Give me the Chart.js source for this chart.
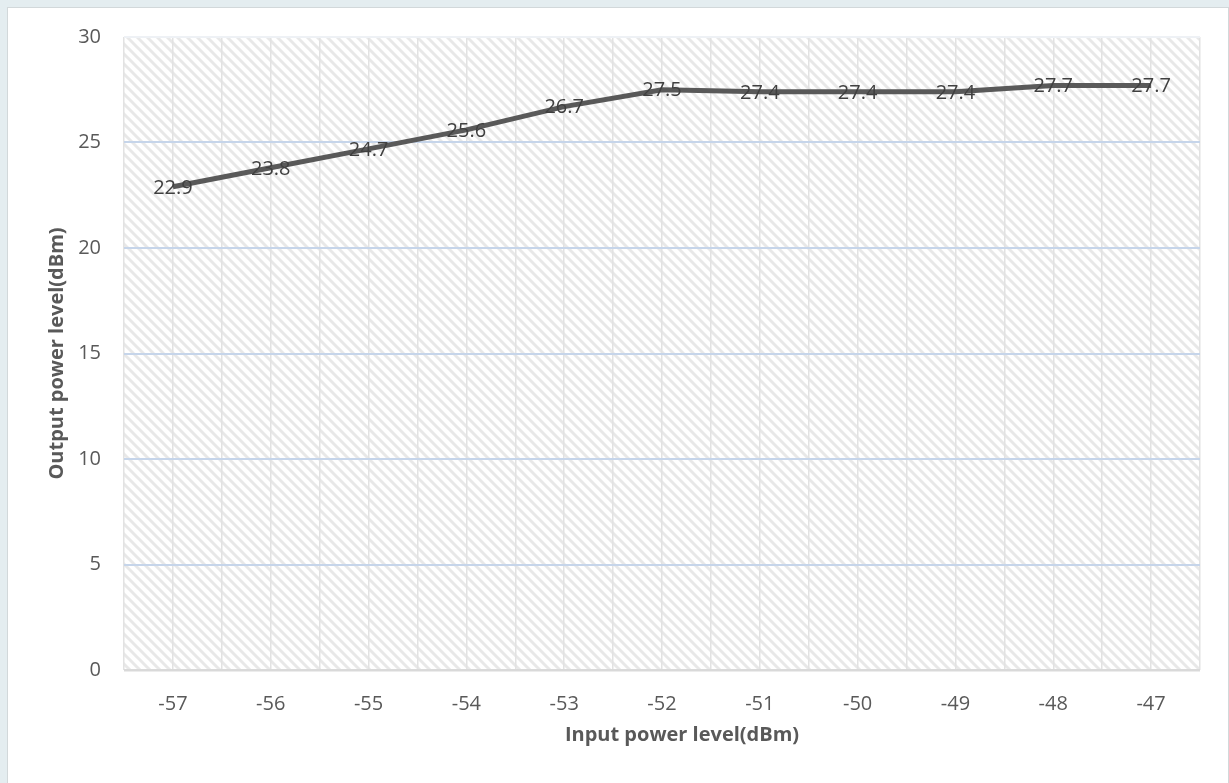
<!DOCTYPE html>
<html>
<head>
<meta charset="utf-8">
<script src="https://cdn.jsdelivr.net/npm/chart.js@4"></script>
<style>
  html, body { margin: 0; padding: 0; }
  body { width: 1229px; height: 783px; background: #e4edf0; position: relative; overflow: hidden; }
  .panel { position: absolute; left: 7px; top: 7px; width: 1220px; height: 780px; background: #fff;
           border-left: 1px solid #d2d8da; border-top: 1px solid #d2d8da; border-right: 1px solid #d2d8da; }
  .wrap { position: absolute; left: 8px; top: 8px; width: 1219px; height: 775px; }
</style>
</head>
<body>
<div class="panel"></div>
<div class="wrap"><canvas id="powerChart"></canvas></div>
<script>
// input level (dBm) and measured output level (dBm)
const inputLevels = [-57, -56, -55, -54, -53, -52, -51, -50, -49, -48, -47];
const outputLevels = [22.9, 23.8, 24.7, 25.6, 26.7, 27.5, 27.4, 27.4, 27.4, 27.7, 27.7];
const yTicks = [0, 5, 10, 15, 20, 25, 30];
const xTitle = "Input power level(dBm)";
const yTitle = "Output power level(dBm)";

const FONT = "'Open Sans', 'DejaVu Sans', sans-serif";

// diagonal hatch tile for the plot area
function makeHatch() {
  const c = document.createElement("canvas");
  c.width = 10;
  c.height = 10;
  const g = c.getContext("2d");
  g.strokeStyle = "rgba(0,0,0,0.09)";
  g.lineWidth = 3;
  g.beginPath();
  g.moveTo(-2, -2); g.lineTo(12, 12);
  g.moveTo(-2, 8); g.lineTo(2, 12);
  g.moveTo(8, -2); g.lineTo(12, 2);
  g.stroke();
  return c;
}

const hatchFill = {
  id: "hatchFill",
  beforeDraw(chart) {
    const { ctx, chartArea: a } = chart;
    ctx.save();
    ctx.fillStyle = ctx.createPattern(makeHatch(), "repeat");
    ctx.fillRect(a.left, a.top, a.right - a.left, a.bottom - a.top);
    ctx.restore();
  },
};

// value labels centred on each point, plus the x axis title (sits a bit right of centre)
const chartText = {
  id: "chartText",
  afterDatasetsDraw(chart) {
    const { ctx } = chart;
    const meta = chart.getDatasetMeta(0);
    ctx.save();
    ctx.font = "20px " + FONT;
    ctx.fillStyle = "#404040";
    ctx.textAlign = "center";
    ctx.textBaseline = "middle";
    meta.data.forEach((pt, i) => {
      ctx.fillText(outputLevels[i].toFixed(1), pt.x, pt.y + 1);
    });
    const xs = chart.scales.x;
    ctx.font = "bold 20px " + FONT;
    ctx.fillStyle = "#595959";
    ctx.fillText(xTitle, (xs.left + xs.right) / 2 + 20, xs.bottom - 48);
    ctx.restore();
  },
};

const ctx = document.getElementById("powerChart").getContext("2d");

const powerChart = new Chart(ctx, {
  type: "line",
  data: {
    datasets: [
      {
        label: "Output power",
        data: inputLevels.map((x, i) => ({ x: x, y: outputLevels[i] })),
        borderColor: "#595959",
        borderWidth: 5,
        pointRadius: 0,
        tension: 0,
        fill: false,
      },
    ],
  },
  options: {
    responsive: true,
    maintainAspectRatio: false,
    animation: false,
    devicePixelRatio: 1,
    layout: { padding: { left: 0, top: 29, right: 27, bottom: 0 } },
    plugins: {
      legend: { display: false },
      tooltip: { enabled: false },
    },
    scales: {
      x: {
        type: "linear",
        min: inputLevels[0] - 0.5,
        max: inputLevels[inputLevels.length - 1] + 0.5,
        afterFit(scale) {
          scale.height = 113;
          scale.paddingLeft = 0;
          scale.paddingRight = 0;
        },
        border: { display: false },
        grid: { color: "#e2e2e2", lineWidth: 1.5, drawTicks: false },
        ticks: {
          stepSize: 0.5,
          autoSkip: false,
          maxRotation: 0,
          padding: 22,
          color: "#595959",
          font: { family: FONT, size: 20 },
          callback: (v) => (Number.isInteger(v) ? String(v) : ""),
        },
      },
      y: {
        min: yTicks[0],
        max: yTicks[yTicks.length - 1],
        afterFit(scale) {
          scale.width = 116;
          scale.paddingTop = 0;
          scale.paddingBottom = 0;
        },
        afterBuildTicks(scale) { scale.ticks = yTicks.map((v) => ({ value: v })); },
        border: { display: false },
        grid: {
          drawTicks: false,
          color: (c) => (c.tick.value === 0 ? "#d9d9d9" : c.tick.value === 30 ? "#eef1f5" : "#c6d5ea"),
          lineWidth: (c) => (c.tick.value === 0 ? 2.5 : 2),
        },
        ticks: {
          padding: 23,
          color: "#595959",
          font: { family: FONT, size: 20 },
        },
        title: {
          display: true,
          text: yTitle,
          color: "#595959",
          font: { family: FONT, size: 20, weight: "bold" },
          padding: { top: 37, bottom: 0 },
        },
      },
    },
  },
  plugins: [hatchFill, chartText],
});
</script>
</body>
</html>
